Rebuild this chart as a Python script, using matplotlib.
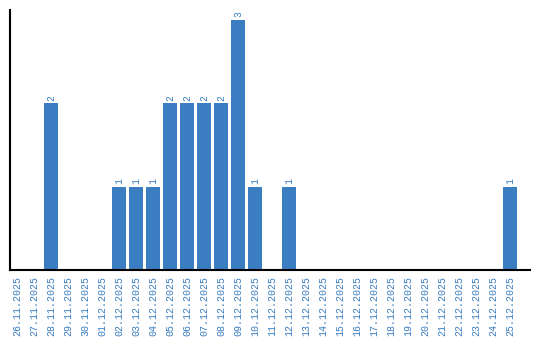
import matplotlib
matplotlib.use('Agg')
import matplotlib.pyplot as plt

# dates and counts
dates = ['26.11.2025', '27.11.2025', '28.11.2025', '29.11.2025', '30.11.2025',
         '01.12.2025', '02.12.2025', '03.12.2025', '04.12.2025', '05.12.2025',
         '06.12.2025', '07.12.2025', '08.12.2025', '09.12.2025', '10.12.2025',
         '11.12.2025', '12.12.2025', '13.12.2025', '14.12.2025', '15.12.2025',
         '16.12.2025', '17.12.2025', '18.12.2025', '19.12.2025', '20.12.2025',
         '21.12.2025', '22.12.2025', '23.12.2025', '24.12.2025', '25.12.2025']
counts = [0, 0, 2, 0, 0, 0, 1, 1, 1, 2, 2, 2, 2, 3, 1, 0, 1, 0, 0, 0,
          0, 0, 0, 0, 0, 0, 0, 0, 0, 1]

bar_color = '#3a7dc1'
text_color = '#3a7dc1'

fig = plt.figure(figsize=(5.4, 3.4), dpi=100)
ax = fig.add_axes([0.0185, 0.206, 0.963, 0.765])

x = range(len(dates))
bars = ax.bar(x, counts, width=0.82, color=bar_color)

for xi, v in zip(x, counts):
    if v > 0:
        ax.text(xi, v + 0.03, str(v), rotation=90, ha='center', va='bottom',
                color=text_color, fontsize=7, family='Liberation Mono')

# extra space on the right, like the original
ax.set_xlim(-0.41, 30.18)
ax.set_ylim(0, 3.12)
ax.set_xticks(list(x))
ax.set_xticklabels(dates, rotation=90, color=text_color, fontsize=7.2,
                   family='Liberation Mono')
ax.set_yticks([])
ax.tick_params(axis='x', length=0, pad=4)
ax.spines['top'].set_visible(False)
ax.spines['right'].set_visible(False)
ax.spines['left'].set_linewidth(1.5)
ax.spines['bottom'].set_linewidth(1.5)

fig.savefig('out.png', dpi=100)
